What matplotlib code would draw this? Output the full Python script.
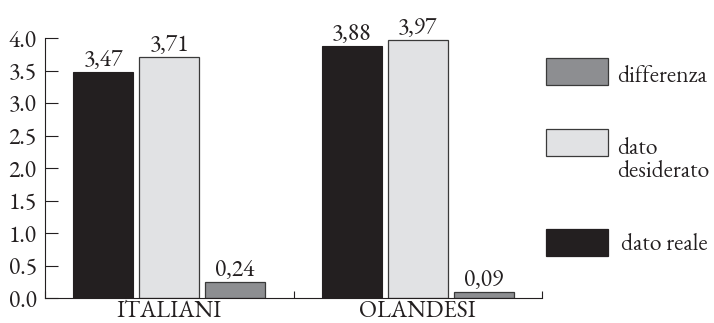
import matplotlib
matplotlib.use("Agg")
import matplotlib.pyplot as plt
import matplotlib.transforms as mtransforms
import numpy as np
from matplotlib.patches import Rectangle

plt.rcParams['font.family'] = ['EB Garamond', 'Liberation Serif', 'DejaVu Serif']

groups = ["ITALIANI", "OLANDESI"]
dato_reale = [3.47, 3.88]
dato_desiderato = [3.71, 3.97]
differenza = [0.24, 0.09]
series_labels = ["differenza", "dato\ndesiderato", "dato reale"]

colors = {"reale": "#231f20", "desiderato": "#e1e2e4", "differenza": "#8d8e91"}
edge = "#3a3a3a"
ink = "#231f20"
fs = 17

fig = plt.figure(figsize=(7.14, 3.23), dpi=100)
W, H = 714, 323
ax = fig.add_axes([45 / W, 1 - 298 / H, (542 - 45) / W, (298 - 38) / H])

x = np.arange(len(groups))
w = 0.241
step = 0.265
ax.bar(x - step, dato_reale, w, color=colors["reale"], edgecolor=colors["reale"], lw=0.8)
ax.bar(x, dato_desiderato, w, color=colors["desiderato"], edgecolor=edge, lw=0.9)
ax.bar(x + step, differenza, w, color=colors["differenza"], edgecolor=edge, lw=0.9)

for xs, vals in [(x - step, dato_reale), (x, dato_desiderato), (x + step, differenza)]:
    for xi, v in zip(xs, vals):
        ax.annotate(f"{v:.2f}".replace(".", ","), (xi, v), xytext=(0, 4.5),
                    textcoords="offset points", ha="center", va="baseline",
                    fontsize=fs, color=ink)

ax.set_xlim(-0.5, 1.5)
ax.set_ylim(0, 4.0)
yt = np.arange(0, 4.01, 0.5)
ax.set_yticks(yt)
ax.set_yticklabels([f"{t:.1f}" for t in yt], fontsize=fs)
ax.tick_params(axis="y", direction="in", length=9, width=0.8, pad=6, colors=ink)

# tick marks at the group boundaries, names placed under each group
ax.set_xticks([-0.5, 0.5, 1.5])
ax.set_xticklabels([])
ax.tick_params(axis="x", direction="in", length=5, width=0.8, color=ink)
trans = mtransforms.blended_transform_factory(ax.transData, fig.transFigure)
for xi, name in zip(x, groups):
    ax.text(xi, 1 - 317 / H, name, transform=trans, ha="center", va="baseline",
            fontsize=fs, color=ink, clip_on=False)

for s in ["top", "right"]:
    ax.spines[s].set_visible(False)
for s in ["left", "bottom"]:
    ax.spines[s].set_linewidth(0.8)
    ax.spines[s].set_color(ink)

# legend drawn by hand to keep the uneven spacing
legend_items = [
    (colors["differenza"], edge, 58, series_labels[0], 617, 82),
    (colors["desiderato"], edge, 129, series_labels[1], 617, 154),
    (colors["reale"], colors["reale"], 229, series_labels[2], 621, 250),
]
for fc, ec, top, label, tx, base in legend_items:
    fig.add_artist(Rectangle((546 / W, 1 - (top + 27) / H), 62 / W, 27 / H,
                             transform=fig.transFigure, facecolor=fc, edgecolor=ec, lw=0.9))
    for i, line in enumerate(label.split("\n")):
        fig.text(tx / W, 1 - (base + 23 * i) / H, line, fontsize=fs, color=ink,
                 ha="left", va="baseline")

fig.savefig("out.png", dpi=100)
